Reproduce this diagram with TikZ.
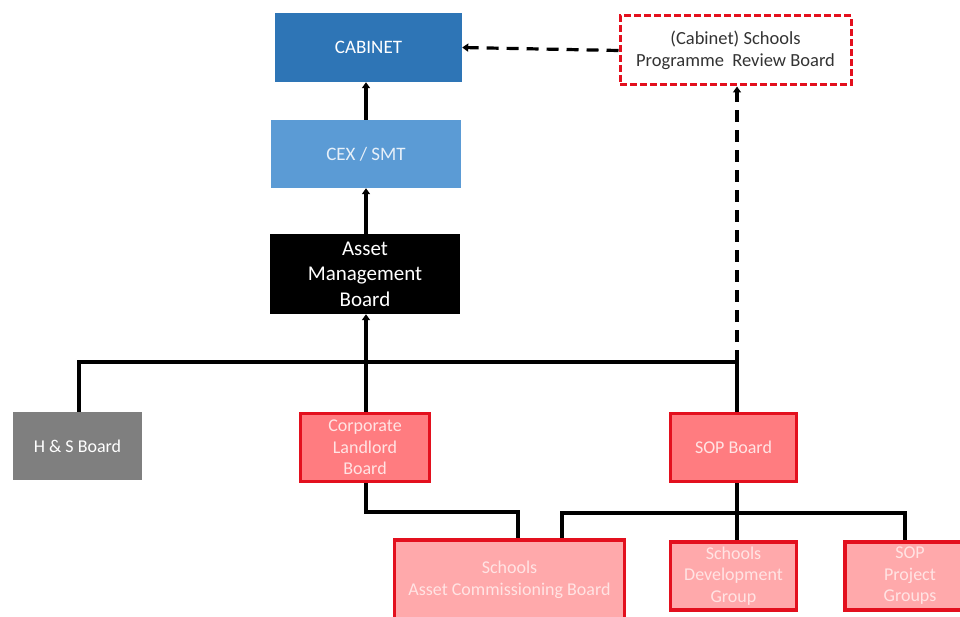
\documentclass[tikz,border=0pt]{standalone}
\usepackage{fontspec}
\setmainfont{Carlito}
\usetikzlibrary{arrows.meta}
\definecolor{cabblue}{HTML}{2E75B6}
\definecolor{cexblue}{HTML}{5B9BD5}
\definecolor{bred}{HTML}{E3101E}
\definecolor{redfill}{HTML}{FF7C80}
\definecolor{pinkfill}{HTML}{FFA9AB}
\definecolor{hsgray}{HTML}{7F7F7F}
\definecolor{paletext}{HTML}{FFE4E4}
\tikzset{
  box/.style={rectangle, inner sep=1pt, align=center, font=\fontsize{19}{22}\selectfont},
  redbox/.style={box, draw=bred, line width=3.2pt, fill=redfill, text=paletext, font=\fontsize{18}{21.5}\selectfont},
  pinkbox/.style={box, draw=bred, line width=3.2pt, fill=pinkfill, text=paletext, font=\fontsize{18}{21.5}\selectfont},
  conn/.style={line width=3.2pt, black},
  arr/.style={conn, -{Triangle[width=8pt,length=6pt]}},
  darr/.style={arr, dash pattern=on 12pt off 8pt},
}
\begin{document}
\begin{tikzpicture}[x=1pt,y=-1pt]
\useasboundingbox (0,0) rectangle (960,617);
\clip (0,0) rectangle (960,617);
% top column
\node[box, fill=cabblue, text=white, minimum width=187pt, minimum height=69pt] (cab) at (368.5,47.5) {CABINET};
\node[box, fill=cexblue, text=white!85!cexblue, minimum width=190pt, minimum height=68pt] (cex) at (366,154) {CEX / SMT};
\node[box, fill=black, text=white, minimum width=190pt, minimum height=80pt, font=\fontsize{21}{25.5}\selectfont] (amb) at (365,274) {Asset\\Management\\Board};
\node[box, draw=bred, line width=3pt, dash pattern=on 7pt off 3pt, fill=white, text=black!80, minimum width=231pt, minimum height=69pt, font=\fontsize{18.5}{22}\selectfont] (rev) at (735.5,50.5) {(Cabinet) Schools\\Programme~~Review Board};
% second row
\node[box, fill=hsgray, text=white, minimum width=129pt, minimum height=68pt, font=\fontsize{18}{21}\selectfont] (hs) at (77.5,446) {H \& S Board};
\node[redbox, minimum width=129pt, minimum height=68pt] (clb) at (365,447.5) {Corporate\\Landlord\\Board};
\node[redbox, minimum width=126pt, minimum height=68pt] (sop) at (733.5,447.5) {SOP Board};
% third row
\node[pinkbox, minimum width=230pt, minimum height=80pt] (sacb) at (509.5,580) {Schools\\Asset Commissioning Board};
\node[pinkbox, minimum width=126pt, minimum height=68pt] (sdg) at (733.5,576) {Schools\\Development\\Group};
\node[pinkbox, minimum width=130pt, minimum height=68pt] (spg) at (910,576) {SOP\\Project\\Groups};
% junction coordinates
\coordinate (jl) at (79,362);
\coordinate (jr) at (737,362);
\coordinate (c1) at (366,512);
\coordinate (c2) at (518,512);
\coordinate (s1) at (562,513);
\coordinate (s2) at (905,513);
% connectors
\draw[arr] (cex.north -| 366,0) -- (cab.south -| 366,0);
\draw[arr] (amb.north -| 366,0) -- (cex.south -| 366,0);
\draw[arr] (clb.north -| 366,0) -- (amb.south -| 366,0);
\draw[conn] (hs.north -| jl) -- (jl) -- (jr) -- (sop.north -| jr);
\draw[darr] (jr) -- (rev.south -| jr);
\draw[darr] (rev.west) -- (cab.east);
\draw[conn] (clb.south -| c1) -- (c1) -- (c2) -- (sacb.north -| c2);
\draw[conn] (sop.south -| jr) -- (sdg.north -| jr);
\draw[conn] (sacb.north -| s1) -- (s1) -- (s2) -- (spg.north -| s2);
\end{tikzpicture}
\end{document}
